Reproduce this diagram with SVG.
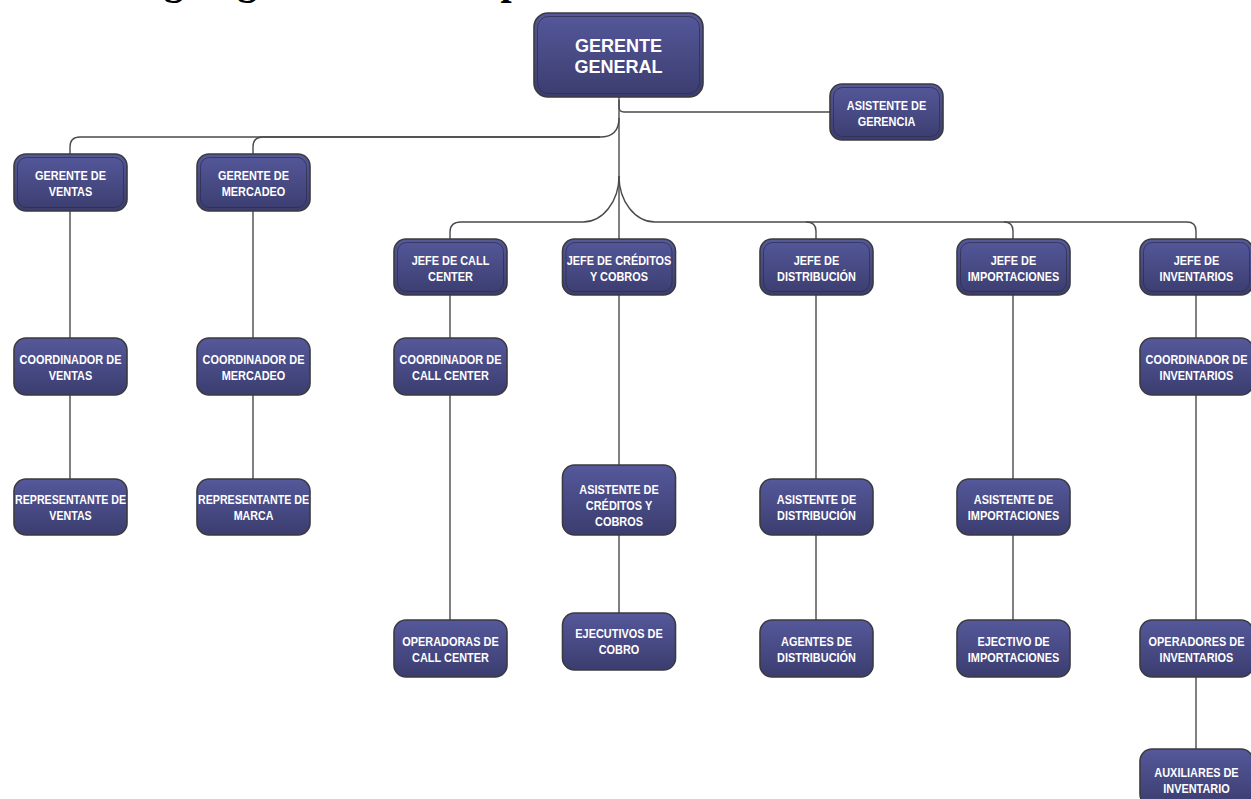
<svg xmlns="http://www.w3.org/2000/svg" width="1251" height="799" viewBox="0 0 1251 799">
<defs>
<linearGradient id="nodeFill" x1="0" y1="0" x2="0" y2="1">
<stop offset="0" stop-color="#55589a"/>
<stop offset="1" stop-color="#3b3d6f"/>
</linearGradient>
<style>
.box{fill:url(#nodeFill);stroke:#3a3a40;stroke-width:1.6}
.inner{fill:none;stroke:#2c2d48;stroke-width:0.9;opacity:0.8}
.lbl{fill:#ffffff;font-family:"Liberation Sans",Arial,sans-serif;font-weight:bold;font-size:13px;text-anchor:middle}
.big{fill:#ffffff;font-family:"Liberation Sans",Arial,sans-serif;font-weight:bold;font-size:19px;text-anchor:middle}
.conn{fill:none;stroke:#4a4a4e;stroke-width:1.4}
.title{font-family:"Liberation Serif","Times New Roman",serif;font-weight:bold;font-size:40px;fill:#000}
</style>
</defs>
<rect width="1251" height="799" fill="#ffffff"/>
<text class="title" x="115" y="-6">Organigrama de la empresa</text>

<g id="connectors">
<path class="conn" d="M619,97 V239"/>
<path class="conn" d="M619,100 V107 Q619,112 624,112 H830"/>
<path class="conn" d="M619,118 Q619,137 600,137 H80 Q70,137 70,147 V154"/>
<path class="conn" d="M600,137 H263 Q253,137 253,147 V154"/>
<path class="conn" d="M619,176 A36,46 0 0 1 583,222 H461 Q450,222 450,232 V239"/>
<path class="conn" d="M619,176 A36,46 0 0 0 655,222 H806 Q816,222 816,231 V239"/>
<path class="conn" d="M806,222 H1004 Q1013,222 1013,231 V239"/>
<path class="conn" d="M1004,222 H1187 Q1196,222 1196,231 V239"/>
<path class="conn" d="M70,211 V338 M70,395 V479"/>
<path class="conn" d="M253,211 V338 M253,395 V479"/>
<path class="conn" d="M450,295 V338 M450,395 V620"/>
<path class="conn" d="M619,295 V465 M619,535 V613"/>
<path class="conn" d="M816,295 V479 M816,535 V620"/>
<path class="conn" d="M1013,295 V479 M1013,535 V620"/>
<path class="conn" d="M1196,295 V338 M1196,395 V620 M1196,677 V749"/>
</g>

<g id="gerente-general">
<rect class="box" x="534" y="13" width="169" height="84" rx="14"/>
<rect class="inner" x="537.5" y="16.5" width="162" height="77" rx="11"/>
<text class="big" transform="translate(618.5 0) scale(0.95 1)"><tspan x="0" y="52">GERENTE</tspan><tspan x="0" y="73">GENERAL</tspan></text>
</g>
<g id="asistente-gerencia">
<rect class="box" x="830" y="84" width="113" height="56" rx="12"/>
<rect class="inner" x="833.5" y="87.5" width="106" height="49" rx="9"/>
<text class="lbl" transform="translate(886.5 0) scale(0.84 1)"><tspan x="0" y="110">ASISTENTE DE</tspan><tspan x="0" y="126">GERENCIA</tspan></text>
</g>
<g id="gerente-ventas">
<rect class="box" x="14" y="154" width="113" height="57" rx="12"/>
<rect class="inner" x="17.5" y="157.5" width="106" height="50" rx="9"/>
<text class="lbl" transform="translate(70.5 0) scale(0.84 1)"><tspan x="0" y="180">GERENTE DE</tspan><tspan x="0" y="196">VENTAS</tspan></text>
</g>
<g id="gerente-mercadeo">
<rect class="box" x="197" y="154" width="113" height="57" rx="12"/>
<rect class="inner" x="200.5" y="157.5" width="106" height="50" rx="9"/>
<text class="lbl" transform="translate(253.5 0) scale(0.84 1)"><tspan x="0" y="180">GERENTE DE</tspan><tspan x="0" y="196">MERCADEO</tspan></text>
</g>
<g id="jefe-call-center">
<rect class="box" x="394" y="239" width="113" height="56" rx="12"/>
<rect class="inner" x="397.5" y="242.5" width="106" height="49" rx="9"/>
<text class="lbl" transform="translate(450.5 0) scale(0.84 1)"><tspan x="0" y="265">JEFE DE CALL</tspan><tspan x="0" y="281">CENTER</tspan></text>
</g>
<g id="jefe-creditos">
<rect class="box" x="562.5" y="239" width="113" height="56" rx="12"/>
<rect class="inner" x="566" y="242.5" width="106" height="49" rx="9"/>
<text class="lbl" transform="translate(619 0) scale(0.84 1)"><tspan x="0" y="265">JEFE DE CRÉDITOS</tspan><tspan x="0" y="281">Y COBROS</tspan></text>
</g>
<g id="jefe-distribucion">
<rect class="box" x="760" y="239" width="113" height="56" rx="12"/>
<rect class="inner" x="763.5" y="242.5" width="106" height="49" rx="9"/>
<text class="lbl" transform="translate(816.5 0) scale(0.84 1)"><tspan x="0" y="265">JEFE DE</tspan><tspan x="0" y="281">DISTRIBUCIÓN</tspan></text>
</g>
<g id="jefe-importaciones">
<rect class="box" x="957" y="239" width="113" height="56" rx="12"/>
<rect class="inner" x="960.5" y="242.5" width="106" height="49" rx="9"/>
<text class="lbl" transform="translate(1013.5 0) scale(0.84 1)"><tspan x="0" y="265">JEFE DE</tspan><tspan x="0" y="281">IMPORTACIONES</tspan></text>
</g>
<g id="jefe-inventarios">
<rect class="box" x="1140" y="239" width="113" height="56" rx="12"/>
<rect class="inner" x="1143.5" y="242.5" width="106" height="49" rx="9"/>
<text class="lbl" transform="translate(1196.5 0) scale(0.84 1)"><tspan x="0" y="265">JEFE DE</tspan><tspan x="0" y="281">INVENTARIOS</tspan></text>
</g>

<g id="coordinador-ventas">
<rect class="box" x="14" y="338" width="113" height="57" rx="12"/>
<text class="lbl" transform="translate(70.5 0) scale(0.84 1)"><tspan x="0" y="364">COORDINADOR DE</tspan><tspan x="0" y="380">VENTAS</tspan></text>
</g>
<g id="coordinador-mercadeo">
<rect class="box" x="197" y="338" width="113" height="57" rx="12"/>
<text class="lbl" transform="translate(253.5 0) scale(0.84 1)"><tspan x="0" y="364">COORDINADOR DE</tspan><tspan x="0" y="380">MERCADEO</tspan></text>
</g>
<g id="coordinador-call-center">
<rect class="box" x="394" y="338" width="113" height="57" rx="12"/>
<text class="lbl" transform="translate(450.5 0) scale(0.84 1)"><tspan x="0" y="364">COORDINADOR DE</tspan><tspan x="0" y="380">CALL CENTER</tspan></text>
</g>
<g id="coordinador-inventarios">
<rect class="box" x="1140" y="338" width="113" height="57" rx="12"/>
<text class="lbl" transform="translate(1196.5 0) scale(0.84 1)"><tspan x="0" y="364">COORDINADOR DE</tspan><tspan x="0" y="380">INVENTARIOS</tspan></text>
</g>

<g id="representante-ventas">
<rect class="box" x="14" y="479" width="113" height="56" rx="12"/>
<text class="lbl" transform="translate(70.5 0) scale(0.82 1)"><tspan x="0" y="504">REPRESENTANTE DE</tspan><tspan x="0" y="520">VENTAS</tspan></text>
</g>
<g id="representante-marca">
<rect class="box" x="197" y="479" width="113" height="56" rx="12"/>
<text class="lbl" transform="translate(253.5 0) scale(0.82 1)"><tspan x="0" y="504">REPRESENTANTE DE</tspan><tspan x="0" y="520">MARCA</tspan></text>
</g>
<g id="asistente-creditos">
<rect class="box" x="562.5" y="465" width="113" height="70" rx="12"/>
<text class="lbl" transform="translate(619 0) scale(0.84 1)"><tspan x="0" y="494">ASISTENTE DE</tspan><tspan x="0" y="510">CRÉDITOS Y</tspan><tspan x="0" y="526">COBROS</tspan></text>
</g>
<g id="asistente-distribucion">
<rect class="box" x="760" y="479" width="113" height="56" rx="12"/>
<text class="lbl" transform="translate(816.5 0) scale(0.84 1)"><tspan x="0" y="504">ASISTENTE DE</tspan><tspan x="0" y="520">DISTRIBUCIÓN</tspan></text>
</g>
<g id="asistente-importaciones">
<rect class="box" x="957" y="479" width="113" height="56" rx="12"/>
<text class="lbl" transform="translate(1013.5 0) scale(0.84 1)"><tspan x="0" y="504">ASISTENTE DE</tspan><tspan x="0" y="520">IMPORTACIONES</tspan></text>
</g>

<g id="operadoras-call-center">
<rect class="box" x="394" y="620" width="113" height="57" rx="12"/>
<text class="lbl" transform="translate(450.5 0) scale(0.84 1)"><tspan x="0" y="646">OPERADORAS DE</tspan><tspan x="0" y="662">CALL CENTER</tspan></text>
</g>
<g id="ejecutivos-cobro">
<rect class="box" x="562.5" y="613" width="113" height="57" rx="12"/>
<text class="lbl" transform="translate(619 0) scale(0.84 1)"><tspan x="0" y="638">EJECUTIVOS DE</tspan><tspan x="0" y="654">COBRO</tspan></text>
</g>
<g id="agentes-distribucion">
<rect class="box" x="760" y="620" width="113" height="57" rx="12"/>
<text class="lbl" transform="translate(816.5 0) scale(0.84 1)"><tspan x="0" y="646">AGENTES DE</tspan><tspan x="0" y="662">DISTRIBUCIÓN</tspan></text>
</g>
<g id="ejectivo-importaciones">
<rect class="box" x="957" y="620" width="113" height="57" rx="12"/>
<text class="lbl" transform="translate(1013.5 0) scale(0.84 1)"><tspan x="0" y="646">EJECTIVO DE</tspan><tspan x="0" y="662">IMPORTACIONES</tspan></text>
</g>
<g id="operadores-inventarios">
<rect class="box" x="1140" y="620" width="113" height="57" rx="12"/>
<text class="lbl" transform="translate(1196.5 0) scale(0.84 1)"><tspan x="0" y="646">OPERADORES DE</tspan><tspan x="0" y="662">INVENTARIOS</tspan></text>
</g>
<g id="auxiliares-inventario">
<rect class="box" x="1140" y="749" width="113" height="57" rx="12"/>
<text class="lbl" transform="translate(1196.5 0) scale(0.84 1)"><tspan x="0" y="777">AUXILIARES DE</tspan><tspan x="0" y="793">INVENTARIO</tspan></text>
</g>
</svg>
